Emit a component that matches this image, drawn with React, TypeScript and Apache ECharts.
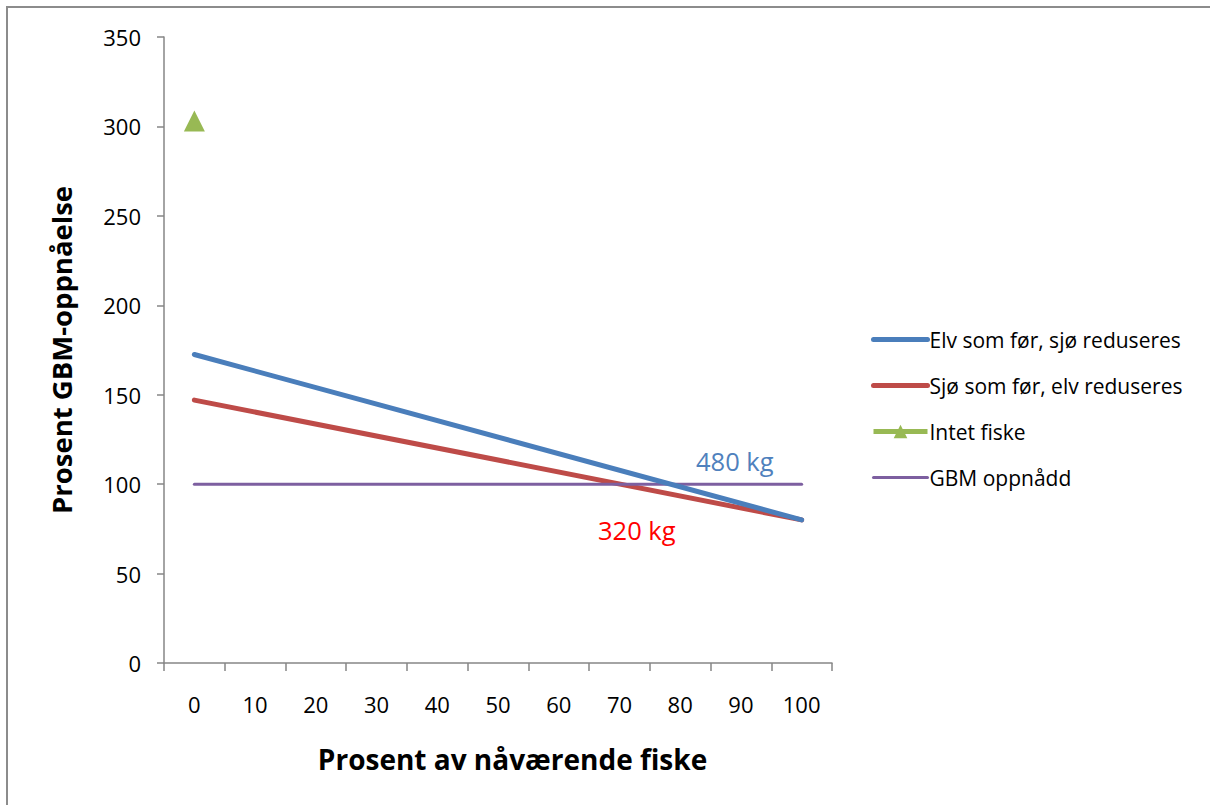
import React, { useEffect, useRef } from "react";
import * as echarts from "echarts";

const categories = ["0", "10", "20", "30", "40", "50", "60", "70", "80", "90", "100"];
const elvSomFor = [172.5, "-", "-", "-", "-", "-", "-", "-", "-", "-", 80];
const sjoSomFor = [147, "-", "-", "-", "-", "-", "-", "-", "-", "-", 80];
const intetFiske = [303, "-", "-", "-", "-", "-", "-", "-", "-", "-", "-"];
const gbmOppnadd = [100, "-", "-", "-", "-", "-", "-", "-", "-", "-", 100];
const yTicks = { min: 0, max: 350, interval: 50 };
const annotations = [
  { text: "480 kg", color: "#4F81BD" },
  { text: "320 kg", color: "#FF0000" },
];

const FONT = "'Open Sans', 'Noto Sans', sans-serif";

export default function App() {
  const ref = useRef<HTMLDivElement>(null);
  useEffect(() => {
    if (!ref.current) return;
    const chart = echarts.init(ref.current, undefined, { renderer: "svg" });
    chart.setOption({
      animation: false,
      backgroundColor: "#ffffff",
      textStyle: { fontFamily: FONT, color: "#000", fontSize: 22 },
      grid: { left: 164, right: 378, top: 37, bottom: 142 },
      legend: {
        orient: "vertical",
        left: 866,
        top: 324,
        itemWidth: 54,
        itemHeight: 17,
        itemGap: 25,
        textStyle: { fontSize: 21, color: "#000", fontFamily: FONT, padding: [0, 0, 0, -3] },
        data: [
          { name: "Elv som før, sjø reduseres", itemStyle: { opacity: 0 }, lineStyle: { width: 5 } },
          { name: "Sjø som før, elv reduseres", itemStyle: { opacity: 0 }, lineStyle: { width: 5 } },
          { name: "Intet fiske", lineStyle: { width: 5 } },
          { name: "GBM oppnådd", itemStyle: { opacity: 0 }, lineStyle: { width: 3 } },
        ],
      },
      xAxis: {
        type: "category",
        data: categories,
        boundaryGap: true,
        name: "Prosent av nåværende fiske",
        nameLocation: "middle",
        nameGap: 82,
        nameTextStyle: {
          fontSize: 28,
          fontWeight: "bold",
          color: "#000",
          fontFamily: FONT,
          padding: [0, 0, 0, 29],
        },
        axisLine: { lineStyle: { color: "#868686", width: 1.5 } },
        axisTick: { show: true, length: 8, lineStyle: { color: "#868686", width: 1.5 } },
        axisLabel: { fontSize: 22, color: "#000", margin: 30, fontFamily: FONT },
        splitLine: { show: false },
      },
      yAxis: {
        type: "value",
        min: yTicks.min,
        max: yTicks.max,
        interval: yTicks.interval,
        name: "Prosent GBM-oppnåelse",
        nameLocation: "middle",
        nameGap: 89,
        nameTextStyle: { fontSize: 27.5, fontWeight: "bold", color: "#000", fontFamily: FONT },
        axisLine: { show: true, lineStyle: { color: "#868686", width: 1.5 } },
        axisTick: { show: true, length: 7, lineStyle: { color: "#868686", width: 1.5 } },
        axisLabel: { fontSize: 22, color: "#000", margin: 23, fontFamily: FONT },
        splitLine: { show: false },
      },
      series: [
        {
          name: "Elv som før, sjø reduseres",
          type: "line",
          data: elvSomFor,
          connectNulls: true,
          symbol: "none",
          color: "#4A7EBB",
          lineStyle: { width: 5, color: "#4A7EBB", cap: "round" },
          z: 3,
        },
        {
          name: "Sjø som før, elv reduseres",
          type: "line",
          data: sjoSomFor,
          connectNulls: true,
          symbol: "none",
          color: "#BE4B48",
          lineStyle: { width: 5, color: "#BE4B48", cap: "round" },
          z: 2,
        },
        {
          name: "Intet fiske",
          type: "line",
          data: intetFiske,
          symbol: "triangle",
          symbolSize: 21,
          showSymbol: true,
          color: "#98B954",
          itemStyle: { color: "#98B954" },
          lineStyle: { width: 5, color: "#98B954" },
          z: 4,
        },
        {
          name: "GBM oppnådd",
          type: "line",
          data: gbmOppnadd,
          connectNulls: true,
          symbol: "none",
          color: "#7D5FA0",
          lineStyle: { width: 3, color: "#7D5FA0", cap: "round" },
          z: 2,
        },
      ],
      graphic: [
        {
          type: "rect",
          shape: { x: 7, y: 7, width: 1260, height: 860 },
          style: { fill: "none", stroke: "#8c8c8c", lineWidth: 2 },
          silent: true,
        },
        {
          type: "text",
          x: 696,
          y: 461,
          style: {
            text: annotations[0].text,
            fill: annotations[0].color,
            fontSize: 25.5,
            fontFamily: FONT,
            verticalAlign: "middle",
          },
        },
        {
          type: "text",
          x: 598,
          y: 530,
          style: {
            text: annotations[1].text,
            fill: annotations[1].color,
            fontSize: 25.5,
            fontFamily: FONT,
            verticalAlign: "middle",
          },
        },
      ],
    });
    return () => chart.dispose();
  }, []);
  return (
    <div
      ref={ref}
      style={{ position: "fixed", left: 0, top: 0, width: 1210, height: 805 }}
    />
  );
}
